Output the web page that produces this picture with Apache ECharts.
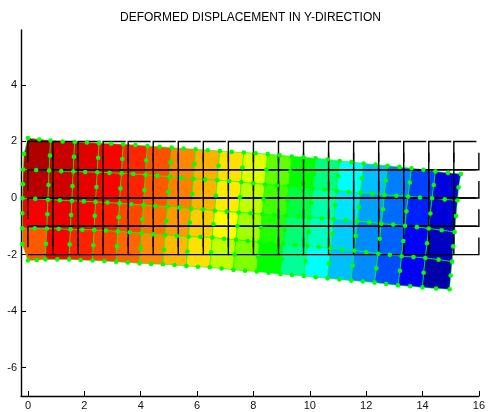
<!DOCTYPE html>
<html><head><meta charset="utf-8">
<style>html,body{margin:0;padding:0;background:#fff}#c{width:488px;height:412px;filter:blur(0.5px)}</style>
<script src="https://cdn.jsdelivr.net/npm/echarts@6/dist/echarts.min.js"></script></head>
<body><div id="c"></div>
<script>
const title = 'DEFORMED DISPLACEMENT IN Y-DIRECTION';
const xTicks = [0,2,4,6,8,10,12,14,16];
const yTicks = [-6,-4,-2,0,2,4];
// Undeformed mesh lines
const gridX = [0,0.889,1.778,2.667,3.556,4.444,5.333,6.222,7.111,8,8.889,9.778,10.667,11.556,12.444,13.333,14.222,15.111,16];
const gridY = [2,1,0,-1,-2];
// Deformed corner nodes, one list per mesh line, top to bottom
const cornerX0 = [0,0.8,1.66,2.52,3.38,4.24,5.1,5.95,6.81,7.66,8.51,9.36,10.21,11.06,11.91,12.76,13.61,14.46,15.36];
const cornerX1 = [-0.17,0.75,1.61,2.46,3.32,4.17,5.02,5.87,6.72,7.57,8.41,9.26,10.11,10.95,11.8,12.65,13.49,14.34,15.24];
const cornerX2 = [-0.19,0.71,1.56,2.4,3.25,4.1,4.95,5.79,6.63,7.48,8.32,9.16,10.01,10.85,11.69,12.54,13.38,14.22,15.14];
const cornerX3 = [-0.2,0.67,1.51,2.35,3.19,4.03,4.87,5.7,6.54,7.38,8.22,9.06,9.91,10.74,11.58,12.43,13.26,14.1,15.05];
const cornerX4 = [0,0.62,1.46,2.29,3.13,3.96,4.79,5.62,6.45,7.29,8.12,8.96,9.79,10.63,11.47,12.3,13.13,14.0,14.96];
const cornerY0 = [2.12,2.03,1.98,1.94,1.9,1.84,1.78,1.72,1.66,1.61,1.55,1.47,1.4,1.31,1.22,1.14,1.05,0.94,0.85];
const cornerY1 = [1.01,0.97,0.94,0.91,0.87,0.82,0.75,0.68,0.63,0.56,0.48,0.41,0.33,0.26,0.19,0.11,0.05,-0.01,-0.09];
const cornerY2 = [-0.01,-0.06,-0.1,-0.14,-0.19,-0.25,-0.31,-0.38,-0.45,-0.51,-0.57,-0.63,-0.69,-0.75,-0.82,-0.91,-0.98,-1.08,-1.2];
const cornerY3 = [-1.07,-1.08,-1.11,-1.13,-1.18,-1.25,-1.31,-1.37,-1.4,-1.48,-1.56,-1.63,-1.7,-1.78,-1.86,-1.97,-2.06,-2.12,-2.25];
const cornerY4 = [-2.21,-2.17,-2.17,-2.21,-2.25,-2.31,-2.34,-2.4,-2.45,-2.54,-2.6,-2.69,-2.76,-2.84,-2.92,-2.99,-3.09,-3.16,-3.23];
// Mid-edge nodes along the long edges
const alongX0 = [0.4,1.23,2.09,2.95,3.81,4.67,5.52,6.38,7.23,8.08,8.93,9.78,10.63,11.48,12.33,13.18,14.03,14.9];
const alongX1 = [0.29,1.18,2.03,2.89,3.74,4.59,5.44,6.29,7.14,7.99,8.83,9.68,10.53,11.37,12.22,13.07,13.91,14.79];
const alongX2 = [0.26,1.13,1.98,2.82,3.67,4.52,5.37,6.21,7.05,7.9,8.74,9.58,10.43,11.27,12.11,12.96,13.8,14.68];
const alongX3 = [0.24,1.09,1.93,2.77,3.61,4.45,5.28,6.12,6.96,7.8,8.64,9.48,10.32,11.16,12,12.84,13.68,14.57];
const alongX4 = [0.31,1.04,1.87,2.71,3.54,4.37,5.2,6.03,6.87,7.7,8.54,9.37,10.21,11.05,11.88,12.71,13.56,14.48];
const alongY0 = [2.07,2,1.96,1.92,1.87,1.81,1.75,1.69,1.63,1.58,1.51,1.44,1.36,1.27,1.18,1.1,1,0.89];
const alongY1 = [0.99,0.95,0.92,0.89,0.85,0.79,0.71,0.65,0.6,0.52,0.44,0.37,0.3,0.22,0.15,0.08,0.02,-0.05];
const alongY2 = [-0.03,-0.08,-0.12,-0.16,-0.22,-0.28,-0.34,-0.41,-0.48,-0.54,-0.6,-0.66,-0.72,-0.78,-0.86,-0.94,-1.03,-1.14];
const alongY3 = [-1.07,-1.09,-1.12,-1.15,-1.21,-1.28,-1.34,-1.38,-1.44,-1.52,-1.6,-1.66,-1.74,-1.82,-1.91,-2.01,-2.09,-2.18];
const alongY4 = [-2.19,-2.17,-2.19,-2.23,-2.28,-2.33,-2.37,-2.43,-2.49,-2.57,-2.64,-2.72,-2.8,-2.88,-2.95,-3.04,-3.12,-3.2];
// Mid-edge nodes across the beam
const acrossX0 = [-0.14,0.78,1.63,2.49,3.35,4.2,5.06,5.91,6.76,7.61,8.46,9.31,10.16,11,11.85,12.7,13.55,14.4,15.28];
const acrossX1 = [-0.18,0.73,1.58,2.43,3.28,4.13,4.98,5.83,6.67,7.52,8.36,9.21,10.06,10.9,11.74,12.6,13.43,14.28,15.19];
const acrossX2 = [-0.2,0.69,1.53,2.37,3.22,4.06,4.91,5.74,6.58,7.43,8.27,9.11,9.96,10.8,11.63,12.48,13.32,14.16,15.09];
const acrossX3 = [-0.2,0.64,1.48,2.32,3.16,4,4.83,5.66,6.5,7.33,8.17,9.01,9.85,10.68,11.52,12.36,13.2,14.04,15];
const acrossY0 = [1.56,1.5,1.46,1.42,1.38,1.33,1.26,1.2,1.14,1.08,1.01,0.94,0.86,0.78,0.7,0.62,0.55,0.46,0.38];
const acrossY1 = [0.49,0.46,0.42,0.39,0.34,0.28,0.22,0.15,0.09,0.03,-0.05,-0.11,-0.18,-0.25,-0.32,-0.4,-0.47,-0.55,-0.64];
const acrossY2 = [-0.54,-0.57,-0.6,-0.63,-0.68,-0.75,-0.81,-0.87,-0.92,-0.99,-1.06,-1.13,-1.2,-1.27,-1.34,-1.44,-1.52,-1.6,-1.71];
const acrossY3 = [-1.63,-1.62,-1.64,-1.67,-1.71,-1.78,-1.83,-1.89,-1.92,-2,-2.08,-2.16,-2.23,-2.31,-2.39,-2.48,-2.57,-2.64,-2.74];
// Colour level of each element, one list per row (0 dark blue ... 6 dark red)
const levels0 = [5.62,5.43,5.24,5,4.85,4.69,4.47,4.31,4.12,3.88,3.38,3,2.5,2,1.75,1.5,1.25,0.76];
const levels1 = [5.55,5.38,5.2,5,4.87,4.65,4.5,4.3,4.08,3.75,3.25,2.75,2.35,1.9,1.63,1.42,1.13,0.7];
const levels2 = [5.05,5.15,5.05,4.9,4.72,4.56,4.4,4.2,4,3.63,3.13,2.55,2.25,1.8,1.55,1.38,1,0.5];
const levels3 = [4.65,5,4.87,4.75,4.6,4.45,4.27,4.12,3.75,3.5,3,2.4,2,1.75,1.55,1.3,0.95,0.32];

const cornerX=[cornerX0,cornerX1,cornerX2,cornerX3,cornerX4], cornerY=[cornerY0,cornerY1,cornerY2,cornerY3,cornerY4];
const alongX=[alongX0,alongX1,alongX2,alongX3,alongX4], alongY=[alongY0,alongY1,alongY2,alongY3,alongY4];
const acrossX=[acrossX0,acrossX1,acrossX2,acrossX3], acrossY=[acrossY0,acrossY1,acrossY2,acrossY3];
const levels=[levels0,levels1,levels2,levels3];

const palette=[[0,0,128],[0,0,255],[0,255,255],[0,255,0],[255,255,0],[255,0,0],[128,0,0]];
function colourOf(s){
  const i=Math.min(5,Math.floor(s)),f=s-i,a=palette[i],b=palette[i+1];
  return 'rgb('+a.map((v,k)=>Math.round(v+(b[k]-v)*f)).join(',')+')';
}
function cellOutline(r,c){
  return [[cornerX[r][c],cornerY[r][c]],[alongX[r][c],alongY[r][c]],[cornerX[r][c+1],cornerY[r][c+1]],
    [acrossX[r][c+1],acrossY[r][c+1]],[cornerX[r+1][c+1],cornerY[r+1][c+1]],[alongX[r+1][c],alongY[r+1][c]],
    [cornerX[r+1][c],cornerY[r+1][c]],[acrossX[r][c],acrossY[r][c]]];
}
const cells=[];
levels.forEach((row,r)=>row.forEach((v,c)=>cells.push([cornerX[r][c],cornerY[r][c],v,r,c])));
const nodes=[];
cornerX.forEach((row,r)=>row.forEach((x,c)=>nodes.push([x,cornerY[r][c]])));
alongX.forEach((row,r)=>row.forEach((x,c)=>nodes.push([x,alongY[r][c]])));
acrossX.forEach((row,r)=>row.forEach((x,c)=>nodes.push([x,acrossY[r][c]])));
const frames=[];
for(let r=0;r<gridY.length-1;r++)for(let c=0;c<gridX.length-1;c++)frames.push([gridX[c],gridY[r],r,c]);

const chart=echarts.init(document.getElementById('c'),null,{renderer:'canvas'});
chart.setOption({
  animation:false,
  backgroundColor:'#fff',
  title:{text:title,left:115,top:7,
    textStyle:{fontFamily:'Liberation Sans',fontSize:12,fontWeight:'normal',color:'#000'}},
  grid:{left:21,right:7,top:30,bottom:16},
  xAxis:{type:'value',min:-0.247,max:16,
    axisLine:{onZero:false,lineStyle:{color:'#000',width:1.4}},
    axisTick:{show:true,inside:true,length:5,lineStyle:{color:'#000',width:1},customValues:xTicks},
    axisLabel:{customValues:xTicks,color:'#111',fontFamily:'Liberation Sans',fontSize:11,margin:4,hideOverlap:false},
    splitLine:{show:false}},
  yAxis:{type:'value',min:-7,max:5.94,
    axisLine:{onZero:false,lineStyle:{color:'#000',width:1.4}},
    axisTick:{show:true,inside:true,length:5,lineStyle:{color:'#000',width:1},customValues:yTicks},
    axisLabel:{customValues:yTicks,color:'#111',fontFamily:'Liberation Sans',fontSize:11,margin:4,hideOverlap:false},
    splitLine:{show:false}},
  series:[
    {type:'custom',clip:false,encode:{x:0,y:1},data:cells,
     renderItem(p,api){
       const pts=cellOutline(api.value(3),api.value(4)).map(q=>api.coord(q));
       return {type:'polygon',shape:{points:pts},
         style:{fill:colourOf(api.value(2)),stroke:'rgba(0,255,0,0.6)',lineWidth:1}};
     }},
    {type:'custom',clip:false,encode:{x:0,y:1},data:frames,
     renderItem(p,api){
       const r=api.value(2),c=api.value(3);
       const l=gridX[c],u=gridX[c+1],t=gridY[r],b=gridY[r+1];
       const w=u-l,h=t-b;
       const first=[[l,b+0.26*h],[l,t],[u-0.1*w,t]].map(q=>api.coord(q));
       const second=[[u,t-0.4*h],[u,b],[l,b]].map(q=>api.coord(q));
       const st={fill:'none',stroke:'#000',lineWidth:1.4};
       return {type:'group',children:[
         {type:'polyline',shape:{points:first},style:st},
         {type:'polyline',shape:{points:second},style:st}]};
     }},
    {type:'scatter',data:nodes,symbol:'circle',symbolSize:4.6,clip:false,
     itemStyle:{color:'#00ff00',opacity:1},silent:true}
  ]
});
</script></body></html>
